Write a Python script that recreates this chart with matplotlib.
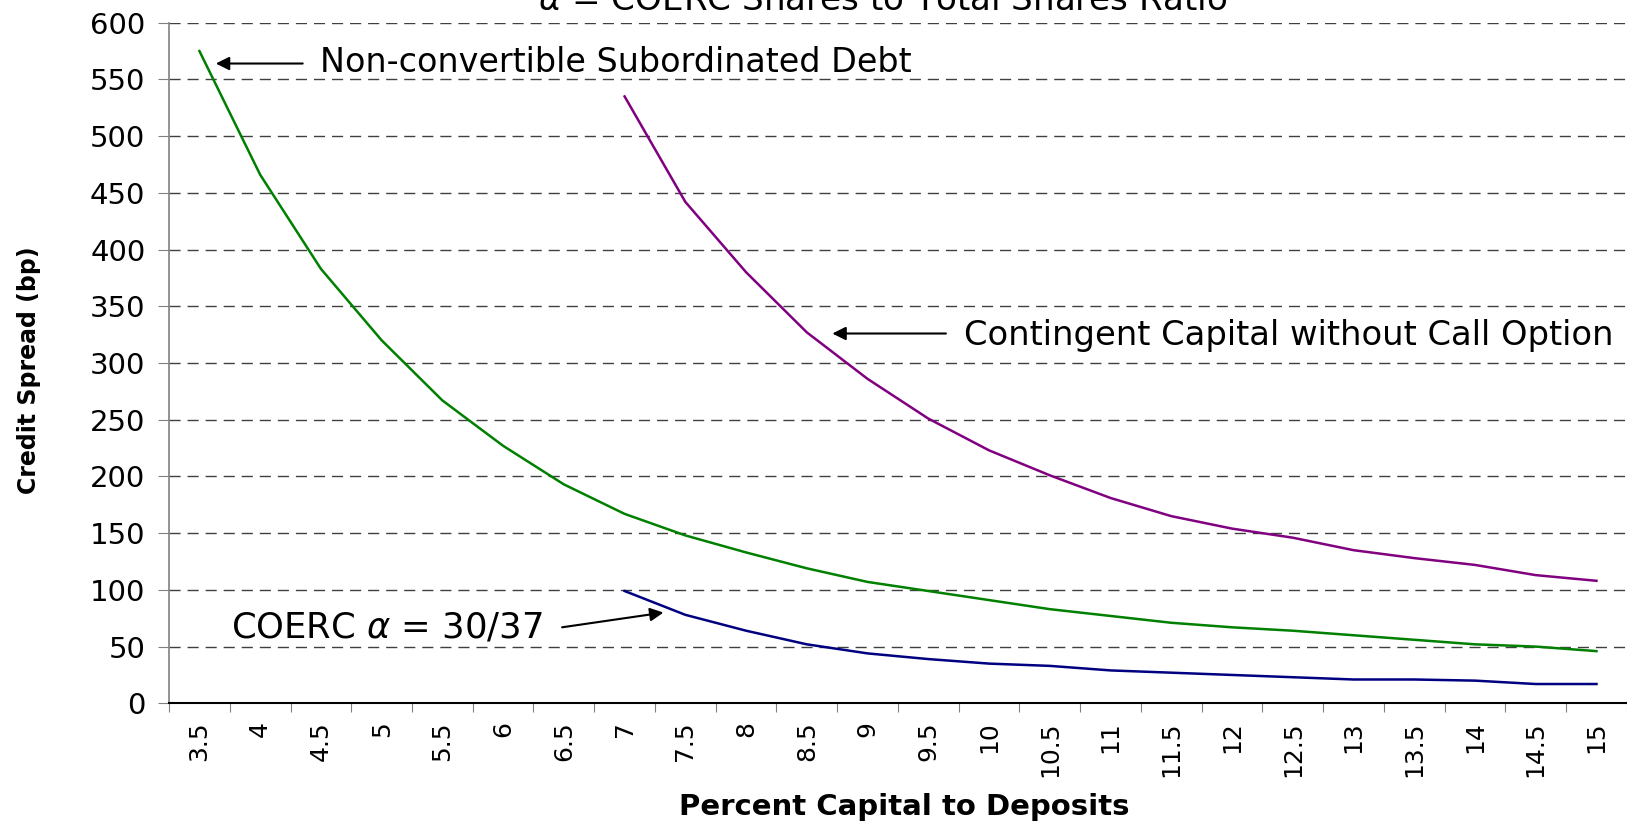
import numpy as np
import matplotlib
matplotlib.use('Agg')
import matplotlib.pyplot as plt

# categories on the x axis (percent capital to deposits)
pct = ['3.5', '4', '4.5', '5', '5.5', '6', '6.5', '7', '7.5', '8', '8.5', '9',
       '9.5', '10', '10.5', '11', '11.5', '12', '12.5', '13', '13.5', '14', '14.5', '15']

# credit spreads in bp
sub_debt = [575, 466, 383, 320, 267, 227, 193, 167, 148, 133, 119, 107,
            99, 91, 83, 77, 71, 67, 64, 60, 56, 52, 50, 46]
# these two start at 7%
contingent = [535, 442, 380, 327, 286, 251, 223, 201, 181, 165, 154, 146,
              135, 128, 122, 113, 108]
coerc = [99, 78, 64, 52, 44, 39, 35, 33, 29, 27, 25, 23, 21, 21, 20, 17, 17]

plt.rcParams['font.family'] = ['DejaVu Sans']

fig = plt.figure(figsize=(16.27, 8.25), dpi=100)
ax = fig.add_axes([0.1039, 0.1475, 0.896, 0.825])

x_all = np.arange(len(pct))
start = pct.index('7')
x_late = x_all[start:]

ax.plot(x_all, sub_debt, color='#008000', lw=1.8)
ax.plot(x_late, contingent, color='#800080', lw=1.8)
ax.plot(x_late, coerc, color='#000080', lw=1.8)

ax.set_xlim(-0.5, len(pct) - 0.5)
ax.set_ylim(0, 600)

# category axis: tick marks between categories, labels on the centres
ax.set_xticks(np.arange(-0.5, len(pct), 1))
ax.set_xticklabels([])
ax.set_xticks(x_all, minor=True)
ax.set_xticklabels(pct, minor=True, rotation=90, fontsize=18)
ax.tick_params(axis='x', which='major', length=6.5, color='#808080', direction='out')
ax.tick_params(axis='x', which='minor', length=0, pad=13)

ax.set_yticks(np.arange(0, 601, 50))
ax.tick_params(axis='y', labelsize=21, length=8, color='#808080', pad=9)

ax.yaxis.grid(True, linestyle=(0, (8, 5)), color='#404040', lw=1)
ax.set_axisbelow(True)

for s in ['top', 'right']:
    ax.spines[s].set_visible(False)
ax.spines['left'].set_color('#808080')
ax.spines['left'].set_linewidth(1.2)
ax.spines['bottom'].set_color('black')
ax.spines['bottom'].set_linewidth(1.5)

ax.set_xlabel('Percent Capital to Deposits', fontsize=21, fontweight='bold', va='center')
ax.xaxis.set_label_coords(0.504, -0.152)
ax.set_ylabel('Credit Spread (bp)', fontsize=17, fontweight='bold', va='center')
ax.yaxis.set_label_coords(-0.096, 0.49)

arrow = dict(arrowstyle='-|>', color='black', lw=1.5, mutation_scale=20,
             shrinkA=0, shrinkB=0)
ax.annotate('', xy=(0.27, 564), xytext=(1.70, 564), arrowprops=arrow)
ax.text(1.98, 565, 'Non-convertible Subordinated Debt', fontsize=24, va='center')

ax.annotate('', xy=(10.42, 326), xytext=(12.29, 326), arrowprops=arrow)
ax.text(12.58, 324, 'Contingent Capital without Call Option', fontsize=24.3, va='center')

ax.annotate('', xy=(7.64, 80), xytext=(5.97, 67), arrowprops=arrow)
ax.text(5.66, 67, r'COERC $\alpha$ = 30/37', fontsize=25.5, va='center', ha='right')

fig.text(0.5427, 0.988, r'$\alpha$ = COERC Shares to Total Shares Ratio',
         fontsize=24.6, ha='center', va='baseline')

fig.savefig('out.png', dpi=100)
